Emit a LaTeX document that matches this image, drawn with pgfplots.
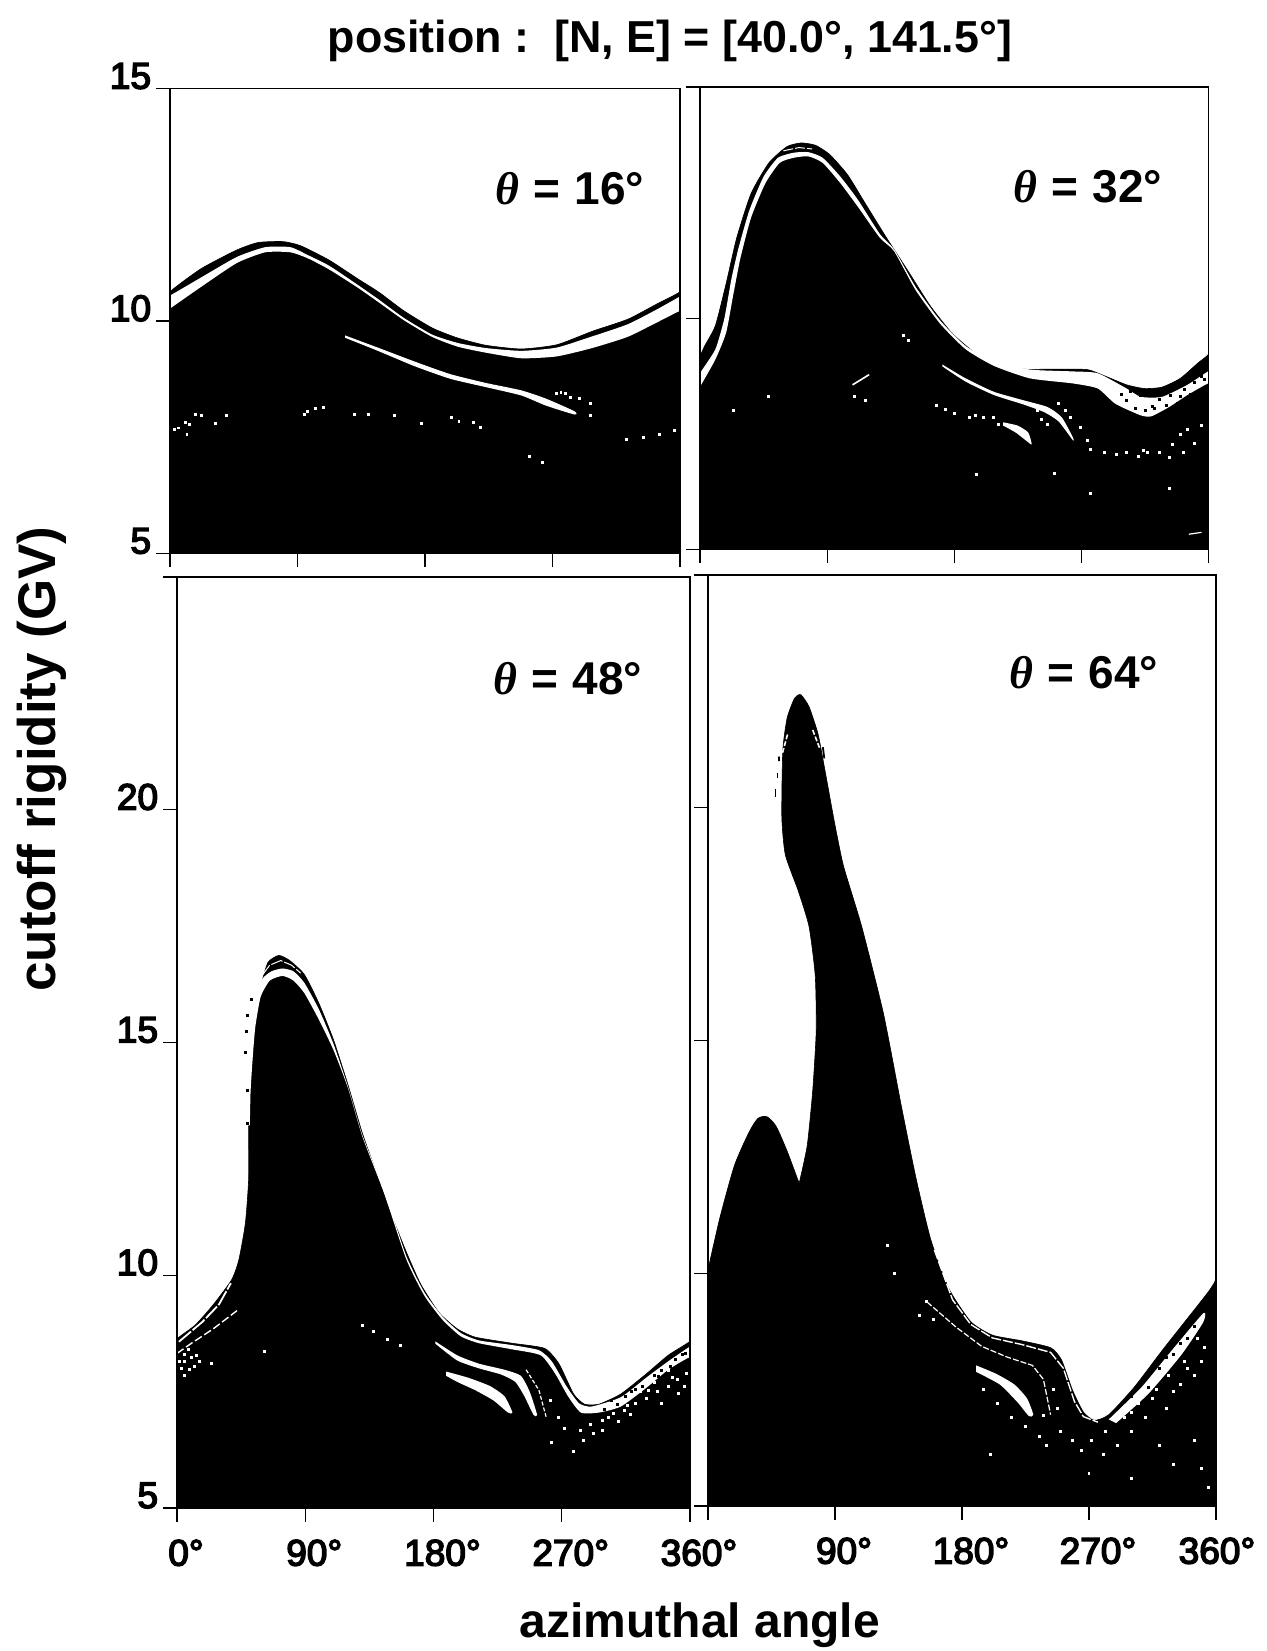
\documentclass[border=0pt]{standalone}
\usepackage{fontspec}
\setmainfont{Liberation Sans}
\newfontfamily\tickf[FakeBold=4]{Liberation Sans}
\newfontfamily\thetaf{Liberation Serif}[BoldItalicFont=* Bold Italic]
\usepackage{pgfplots}
\pgfplotsset{compat=1.18}
\pgfplotsset{
  panel/.style={
    scale only axis, xmin=0, xmax=360, ymin=5,
    xtick={0,90,180,270,360},
    tick pos=left, tick align=outside, major tick length=6.8pt,
    line width=0.65pt, tick style={line width=0.65pt,black},
    tick label style={font=\tickf\fontsize{18.5}{20}\selectfont},
    yticklabel style={anchor=base east, xshift=1pt, yshift=0pt},
    xticklabel style={anchor=base, xshift=4.5pt, yshift=-22pt},
    xticklabels={}, yticklabels={},
    axis on top, clip=true,
  },
  env/.style={black, fill=black, line width=0.3pt, smooth, tension=0.35},
  band/.style={white, fill=white, draw=none, smooth, tension=0.35},
  speckw/.style={only marks, mark=square*, mark size=0.42pt, white, mark options={draw=none,fill=white}},
  speckb/.style={only marks, mark=square*, mark size=0.42pt, black, mark options={draw=none,fill=black}},
}
\begin{document}
\begin{tikzpicture}
\path[use as bounding box] (0pt,0pt) rectangle (633.5pt,825.5pt);

%%%%%%%%%%%% theta = 16
\begin{axis}[panel, at={(85pt,548.75pt)}, anchor=south west, width=255pt, height=232.4pt,
  ymax=15, ytick={5,10,15}, yticklabels={5,10,15}]
\addplot[env] coordinates {(-5,0)(-5,10.3)(0,10.63)(22.1,11.13)(47.2,11.53)(62.2,11.69)(79.8,11.71)(92.3,11.62)(112.4,11.31)(132.5,10.91)(147.5,10.62)(165.1,10.22)(185.2,9.85)(202.7,9.64)(222.8,9.48)(247.9,9.40)(273,9.49)(298.1,9.78)(323.2,10.04)(343.2,10.36)(360,10.63)(365,10.9)(365,0)};
\addplot[band] coordinates {(-2,10.58)(0,10.55)(22.6,10.95)(47.2,11.38)(67.2,11.59)(85,11.59)(97.3,11.42)(112.4,11.19)(132.5,10.78)(147.5,10.46)(165,10.07)(185,9.71)(203,9.53)(223,9.42)(248,9.36)(273,9.43)(298,9.67)(323,9.93)(343,10.24)(360,10.53)(362,10.57)(362,10.18)(360,10.22)(343,9.96)(323,9.66)(298,9.42)(273,9.24)(248,9.20)(223,9.32)(203,9.45)(185,9.66)(165,10.02)(147.5,10.40)(132.5,10.72)(112.4,11.11)(97.3,11.35)(85,11.48)(67.2,11.48)(47.2,11.25)(22.6,10.75)(0,10.27)(-2,10.24)};
\addplot[band] coordinates {(123.7,9.69)(147.5,9.42)(172.6,9.13)(197.7,8.86)(222.8,8.67)(247.9,8.51)(265.5,8.33)(285.5,8.06)(285.5,7.99)(265.5,8.18)(247.9,8.40)(222.8,8.58)(197.7,8.76)(172.6,9.03)(147.5,9.35)(123.7,9.64)};
\addplot[speckw] coordinates {(273,8.45)(276,8.47)(279.3,8.44)(283,8.36)(289.3,8.33)(296.8,8.22)(296.8,7.96)(3.3,7.67)(6,7.7)(10.8,7.82)(14,7.78)(18.3,8.0)(22,7.96)(32,7.80)(39.6,7.96)(12,7.56)(94.8,8.0)(97,8.05)(102.4,8.11)(108.6,8.15)(130,8.0)(140,8.0)(158.8,7.96)(177.6,7.80)(199,7.93)(204,7.85)(214,7.82)(219,7.71)(254,7.09)(263,6.95)(322,7.45)(334.5,7.49)(345.7,7.56)(355.8,7.64)};
\end{axis}

%%%%%%%%%%%% theta = 32
\begin{axis}[panel, at={(350pt,550.75pt)}, anchor=south west, width=254.3pt, height=231.25pt,
  ymax=15, ytick={5,10,15}]
\addplot[env] coordinates {(-5,0)(-5,8.9)(0,9.18)(3.3,9.40)(10.9,9.84)(18.5,10.75)(26,11.74)(36.2,12.70)(48.8,13.36)(61.5,13.71)(71.6,13.79)(81.7,13.74)(91.8,13.54)(104.5,13.10)(117,12.48)(132,11.74)(147.5,11.01)(162.7,10.28)(178,9.69)(193,9.29)(208,9.03)(228.5,8.90)(251,8.90)(274,8.89)(286.7,8.75)(302,8.56)(314.5,8.48)(327,8.51)(340,8.70)(352.4,9.03)(360,9.22)(365,9.5)(365,0)};
\addplot[band] coordinates {(-2,8.7)(0.8,8.85)(10.9,9.33)(17.2,9.99)(22.3,10.86)(27.3,11.52)(34.9,12.33)(45,13.06)(55.2,13.47)(66.5,13.58)(76.7,13.59)(86.8,13.47)(99.4,13.06)(112,12.55)(127.3,11.82)(137.4,11.49)(152.6,10.68)(170,9.95)(188,9.40)(208,9.07)(233.5,8.89)(264,8.85)(281.6,8.81)(302,8.48)(312,8.30)(327,8.30)(345,8.56)(359.5,8.85)(362,8.9)(362,8.55)(359.5,8.59)(345,8.34)(332,8.08)(319.5,7.88)(312,7.90)(294,8.15)(281.6,8.48)(264,8.59)(233.5,8.70)(208,8.97)(188,9.33)(170,9.88)(152.6,10.61)(137.4,11.45)(127.3,11.74)(112,12.40)(99.4,12.92)(86.8,13.36)(76.7,13.5)(66.5,13.47)(56.4,13.36)(46.3,12.92)(36.2,12.18)(28.6,11.3)(23.5,10.5)(18.5,9.69)(10.9,9.11)(0.8,8.56)(-2,8.4)};
\addplot[band] coordinates {(171.5,9.0)(188,8.70)(208,8.41)(228.5,8.23)(246,8.08)(256,7.86)(264,7.42)(264,7.36)(253.8,7.77)(243.6,7.97)(228.5,8.14)(208,8.34)(188,8.63)(171.5,8.96)};
\addplot[band] coordinates {(214.5,7.75)(224.7,7.68)(232.3,7.53)(234.8,7.27)(231,7.35)(223.4,7.53)(214.5,7.68)};
\addplot[white, line width=0.5pt, dash pattern=on 5pt off 1pt] coordinates {(59,13.62)(70,13.69)(79.3,13.66)};
\addplot[white, line width=0.8pt] coordinates {(108,8.56)(119.7,8.78)};
\addplot[white, line width=0.6pt] coordinates {(346,5.33)(355,5.37)};
\addplot[speckw] coordinates {(167.7,8.12)(174,8.02)(180.4,7.93)(190.5,7.86)(195,7.9)(200.6,7.86)(208,7.86)(211,7.7)(238.6,8.0)(242,7.8)(246,7.7)(253.8,8.15)(258.8,8.0)(262,7.85)(269,7.64)(274,7.35)(276.5,7.16)(286.6,7.09)(295,7.05)(301.8,7.09)(310.7,7.02)(314,7.15)(317,7.09)(325,7.1)(332,6.98)(339.8,7.49)(344.8,7.60)(350,7.3)(355,7.68)(334.7,7.27)(342,7.1)(195.6,6.62)(251,6.65)(276.5,6.21)(332.2,6.32)(23.5,8.0)(48.8,8.3)(117,8.23)(109.5,8.3)(143.7,9.62)(147.5,9.51)};
\addplot[speckb] coordinates {(305,8.42)(312,8.33)(320,8.10)(325,8.25)(330,8.12)(333,8.32)(338,8.15)(343,8.45)(350,8.62)(352,8.4)(298,8.35)(302,8.22)(308,8.05)(315,8.0)(340,8.3)(355,8.75)(357,8.68)(322,8.05)(347,8.35)};
\end{axis}

%%%%%%%%%%%% theta = 48
\begin{axis}[panel, at={(88.5pt,71.5pt)}, anchor=south west, width=256.5pt, height=465.5pt,
  ymax=25, ytick={5,10,15,20,25}, yticklabels={5,10,15,20,}, xticklabels={0°,90°,180°,270°,360°}]
\addplot[env] coordinates {(-5,0)(-5,8.3)(0,8.63)(12.8,8.93)(25.5,9.37)(38.3,9.90)(43.4,10.33)(48,11.12)(50.3,12.08)(50.3,13.22)(51,13.92)(52.3,14.71)(54.9,15.49)(58.7,16.19)(63.8,16.72)(71.5,16.87)(79.1,16.76)(89.4,16.46)(99.6,15.84)(109.8,15.06)(120,14.09)(130.2,13.04)(140.4,12.17)(150.6,11.29)(160.8,10.51)(171,9.81)(183.8,9.20)(196.6,8.85)(209.3,8.67)(234.9,8.54)(257.9,8.43)(268,8.10)(278.3,7.45)(286,7.23)(296.1,7.23)(311.5,7.45)(329.3,7.88)(344.7,8.28)(360,8.58)(365,8.8)(365,0)};
\addplot[band] coordinates {(49.8,13.22)(49.8,13.92)(49,14.79)(51,15.49)(54.9,15.93)(60,16.37)(66.4,16.53)(74,16.59)(81.7,16.53)(89.4,16.28)(99.6,15.71)(109.8,14.97)(120,14.05)(130.2,13.0)(145.5,11.82)(160.8,10.42)(173.6,9.63)(186.4,9.11)(199.1,8.76)(211.9,8.60)(235,8.50)(254,8.39)(263,8.15)(273.2,7.62)(282.1,7.25)(291,7.18)(311.5,7.38)(329.3,7.80)(344.7,8.15)(359,8.45)(362,8.5)(362,8.2)(359,8.23)(344.7,7.97)(329.3,7.58)(311.5,7.18)(296.1,7.05)(283.4,7.05)(274.4,7.40)(265.5,7.88)(255.3,8.28)(234.9,8.41)(211.9,8.54)(199.1,8.69)(186.4,9.04)(173.6,9.56)(160.8,10.35)(145.5,11.75)(130.2,12.97)(120,14.02)(109.8,14.84)(99.6,15.49)(89.4,16.06)(81.7,16.33)(74,16.43)(65.1,16.33)(58.7,15.98)(54.9,15.32)(52.8,14.53)(51.6,13.92)(51.1,13.22)};
\addplot[white, line width=0.5pt, dash pattern=on 6pt off 1pt] coordinates {(60,16.45)(65,16.66)(72.8,16.76)(80.4,16.66)(86.8,16.49)};
\addplot[band] coordinates {(181.3,8.58)(196.6,8.28)(211.9,8.10)(229.8,7.97)(241.3,7.84)(247.6,7.49)(252.7,7.0)(250.2,7.0)(243.8,7.40)(237.4,7.71)(227.2,7.87)(211.9,8.0)(196.6,8.17)(181.3,8.53)};
\addplot[band] coordinates {(188.9,7.93)(204.2,7.80)(219.6,7.62)(229.8,7.40)(235.4,7.05)(232.3,7.05)(222.1,7.31)(209.3,7.53)(196.6,7.71)(188.9,7.84)};
\addplot[white, line width=0.9pt, dash pattern=on 8pt off 1pt] coordinates {(1.3,8.57)(17.9,9.0)(29.4,9.37)(37.8,9.83)};
\addplot[white, line width=0.7pt, dash pattern=on 4pt off 1.5pt] coordinates {(0,8.32)(10.2,8.54)(25.5,8.85)(42.1,9.24)};
\addplot[white, line width=0.6pt, dash pattern=on 2pt off 1pt] coordinates {(245,7.97)(254,7.53)(259,6.96)};
\addplot[speckb] coordinates {(49.8,13.26)(49.3,13.96)(48,14.79)(48.5,15.23)(49.8,15.58)(52.3,15.93)(300,7.12)(305,7.3)(309,7.22)(315,7.4)(319,7.5)(322,7.55)(327,7.62)(335,7.85)(338,7.82)(340,7.95)(346,8.04)(350,8.2)(355,8.3)(357,8.32)};
\addplot[speckw] coordinates {(5.1,8.14)(10.2,8.23)(14,8.28)(5.1,7.84)(8.9,7.97)(24.2,8.10)(61.3,8.36)(130.2,8.92)(137.9,8.80)(148,8.63)(157,8.50)(263,6.40)(278.3,6.22)(283.4,6.66)(298.7,6.88)(303,6.95)(314,7.09)(322,7.25)(329.3,7.36)(337,7.5)(344.7,7.62)(351,7.75)(357.4,7.88)(298.7,6.66)(310,6.85)(325,7.5)(335,7.7)(345,7.95)(3,8.0)(5,8.3)(12,8.05)(262,7.3)(268,6.95)(272,6.7)(290,6.8)(318,7.0)(340,7.25)(352,7.45)(306,7.02)(316,7.2)(331,7.52)(348,7.8)(356,7.6)(2,8.15)(8,8.4)(16,8.15)(292,6.6)(285,6.45)};
\end{axis}

%%%%%%%%%%%% theta = 64
\begin{axis}[panel, at={(354pt,72.5pt)}, anchor=south west, width=254pt, height=465.5pt,
  ymax=25, ytick={5,10,15,20,25}, xticklabels={,90°,180°,270°,\hspace*{-8pt}360°}]
\addplot[black, fill=black, draw=none] coordinates {(-4,9.6)(30,12.5)(64.6,11.93)(100,12.5)(160,9.5)(260,6.5)(364,6)(364,0)(-4,0)};
\addplot[black, fill=black, line width=0.3pt, smooth, tension=0.4] coordinates {(-4,9.6)(0,10.08)(8.5,11.2)(18.8,12.32)(29.1,13.03)(35.5,13.33)(42,13.36)(48.4,13.15)(56.1,12.62)(64.6,11.93)};
\addplot[env] coordinates {(64.6,11.93)(70.3,12.74)(74.2,13.92)(76.7,15.21)(76,16.39)(71.6,17.45)(63.9,18.22)(54.8,18.99)(52.3,19.81)(53,21.23)(56.1,21.93)(61.3,22.35)(65.7,22.43)(71.6,22.17)(78,21.58)(83.2,20.75)(89.6,19.69)(96,18.75)(108.9,17.45)(124.4,15.57)(137.2,13.56)(147.5,12.03)(157.8,10.73)(170.7,9.67)(186.2,8.96)(201.6,8.67)(222.2,8.55)(242.8,8.40)(250.5,8.14)(258.3,7.49)(266,7.02)(273.7,6.84)(284,6.96)(302,7.55)(322.6,8.37)(345.8,9.26)(354.8,9.61)(358.7,9.79)(360,9.88)(364,10.1)(364,0)};
\addplot[band] coordinates {(190,8.02)(204.2,7.84)(217.1,7.61)(226.1,7.31)(230.5,6.96)(227.4,6.93)(219.6,7.22)(206.8,7.61)(190,7.88)};
\addplot[band] coordinates {(284,6.86)(307.2,7.55)(327.8,8.31)(351,9.14)(351,8.95)(335.5,8.25)(312.4,7.42)(289.2,6.78)};
\addplot[white, line width=0.7pt, dash pattern=on 5pt off 1pt] coordinates {(160.4,10.5)(173.3,9.43)(186.2,8.90)(201.6,8.61)(222.2,8.47)(242.8,8.30)(251.8,7.96)(259.6,7.25)(266,6.92)(276.3,6.80)};
\addplot[white, line width=0.6pt, dash pattern=on 3pt off 1pt] coordinates {(155.3,9.38)(175.9,8.84)(193.9,8.43)(211.9,8.20)(229.9,8.02)(237.7,7.72)(242.8,6.96)};
\addplot[white, line width=0.8pt, dash pattern=on 2.5pt off 1pt] coordinates {(52.8,21.18)(56.6,21.6)};
\addplot[white, line width=0.8pt, dash pattern=on 2.5pt off 1pt] coordinates {(74.2,21.67)(79.5,21.25)};
\addplot[black, line width=0.9pt] coordinates {(81.4,21.3)(82.4,21.06)};
\addplot[black, line width=0.9pt] coordinates {(47.9,20.4)(47.9,20.23)};
\addplot[black, line width=0.9pt] coordinates {(49.2,20.75)(49.2,20.64)};
\addplot[black, line width=0.9pt] coordinates {(50.2,21.1)(50.4,21.0)};
\addplot[speckb] coordinates {(295,7.25)(305,7.55)(315,7.9)(325,8.2)(335,8.5)(345,8.85)(320,7.95)(340,8.6)(300,7.35)(312,7.55)(330,8.25)};
\addplot[speckw] coordinates {(126.9,10.6)(132,10.0)(155,9.4)(150,9.1)(160,9.0)(195,7.5)(205,7.2)(215,6.9)(225,6.7)(235,6.5)(240,6.3)(250,6.6)(258,6.4)(265,6.2)(272,6.4)(280,6.1)(290,6.3)(300,6.6)(310,6.9)(315,7.3)(325,7.1)(335,7.6)(345,7.8)(350,8.1)(320,6.3)(330,5.9)(345,6.4)(355,5.4)(350,5.8)(270,5.7)(300,5.6)(200,6.1)(245,7.5)(248,7.1)(238,6.95)(282,6.6)(295,6.9)(305,7.2)(330,7.45)(340,7.95)(352,8.4)(300,7.0)(318,7.5)(326,7.8)(338,8.1)(347,8.6)};
\end{axis}

%%%%%%%%%%%% texts
\node[font=\bfseries\fontsize{22.4}{26}\selectfont] at (335pt,805pt) {position :\ \ [N, E] = [40.0°, 141.5°]};
\node[font=\bfseries\fontsize{26.5}{28}\selectfont, rotate=90] at (21pt,446pt) {cutoff rigidity (GV)};
\node[font=\bfseries\fontsize{24}{26}\selectfont] at (350pt,13pt) {azimuthal angle};
\newcommand{\eqs}{\hspace{7pt}=\hspace{7pt}}
\node[font=\bfseries\fontsize{23}{26}\selectfont] at (285pt,731pt) {{\thetaf\bfseries\itshape θ}\eqs 16°};
\node[font=\bfseries\fontsize{23}{26}\selectfont] at (544pt,732pt) {{\thetaf\bfseries\itshape θ}\eqs 32°};
\node[font=\bfseries\fontsize{23}{26}\selectfont] at (284pt,486pt) {{\thetaf\bfseries\itshape θ}\eqs 48°};
\node[font=\bfseries\fontsize{23}{26}\selectfont] at (542pt,489pt) {{\thetaf\bfseries\itshape θ}\eqs 64°};
\end{tikzpicture}
\end{document}
